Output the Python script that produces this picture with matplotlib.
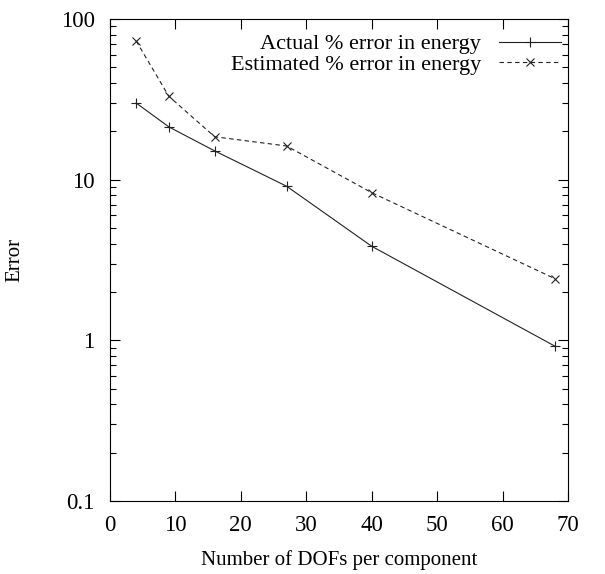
import matplotlib
matplotlib.use('Agg')
import matplotlib.pyplot as plt
from matplotlib.ticker import LogLocator, NullFormatter

plt.rcParams['font.family'] = ['Liberation Serif', 'DejaVu Serif']

# data
dofs = [4, 9, 16, 27, 40, 68]
actual_err = [30, 21.3, 15.1, 9.1, 3.85, 0.92]
estimated_err = [73, 33, 18.5, 16.2, 8.3, 2.42]

xticks = [0, 10, 20, 30, 40, 50, 60, 70]
yticks = [0.1, 1, 10, 100]
ytick_labels = ['0.1', '1', '10', '100']

fig = plt.figure(figsize=(6.05, 5.74), dpi=100)
ax = fig.add_axes([0.1818, 0.1272, 0.757, 0.8397])

ax.plot(dofs, actual_err, color='#222222', lw=0.8, marker='+', ms=7, mew=0.8,
        label='Actual % error in energy')
ax.plot(dofs, estimated_err, color='#222222', lw=0.8, ls=(0, (4, 3)), marker='x',
        ms=5.5, mew=0.8, label='Estimated % error in energy')

ax.set_yscale('log')
ax.set_xlim(0, 70)
ax.set_ylim(0.1, 100)
ax.set_xticks(xticks)
ax.set_yticks(yticks)
ax.set_yticklabels(ytick_labels)
ax.yaxis.set_minor_locator(LogLocator(base=10, subs=range(2, 10)))
ax.yaxis.set_minor_formatter(NullFormatter())

ax.tick_params(which='both', direction='in', top=True, right=True,
               labelsize=16.5, width=0.8)
ax.tick_params(which='major', length=7)
ax.tick_params(axis='x', which='major', pad=10)
ax.tick_params(axis='y', which='major', pad=11)
ax.tick_params(which='minor', length=4)
for s in ax.spines.values():
    s.set_linewidth(0.8)

ax.set_xlabel('Number of DOFs per component', fontsize=15, labelpad=10)
ax.set_ylabel('Error', fontsize=15, labelpad=26)

ax.legend(loc='upper right', bbox_to_anchor=(1, 0.983), frameon=False,
          markerfirst=False, fontsize=16, handlelength=2.8, handletextpad=0.8,
          labelspacing=0.0, borderpad=0, borderaxespad=0.3)

fig.savefig('out.png', dpi=100)
